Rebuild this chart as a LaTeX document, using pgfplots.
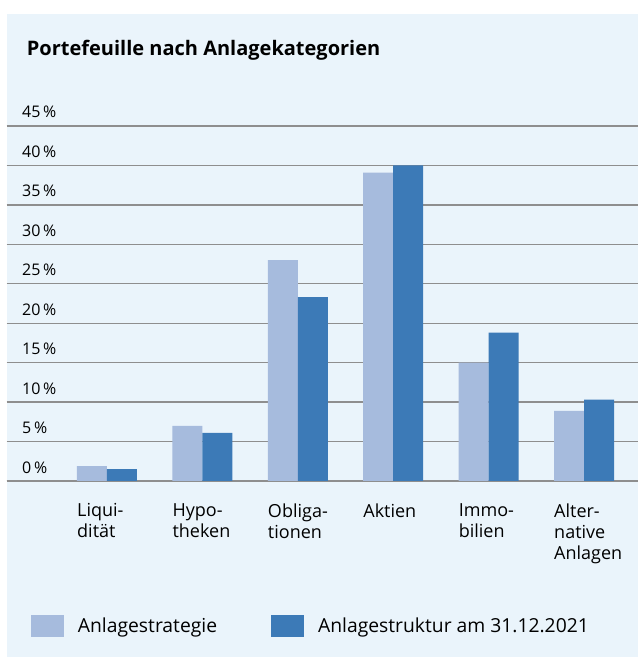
\documentclass[border=0pt]{standalone}
\usepackage{fontspec}
\setmainfont{Open Sans}
\usepackage{pgfplots}
\pgfplotsset{compat=1.18}
\definecolor{bg}{HTML}{EAF4FB}
\definecolor{lightbar}{HTML}{A6BBDD}
\definecolor{darkbar}{HTML}{3C7AB7}
\definecolor{gridc}{HTML}{8E8E8E}
\begin{document}
\begin{tikzpicture}
\fill[white] (0,0) rectangle (638bp,657bp);
\fill[bg] (6.5bp,0) rectangle (638bp,643bp);
\begin{axis}[
  at={(6.5bp,176bp)}, anchor=south west,
  scale only axis, width=631.5bp, height=355bp,
  xmin=-1.053, xmax=5.566, ymin=0, ymax=45,
  ybar=0pt, bar width=30bp,
  axis line style={draw=none},
  major tick length=0pt,
  ymajorgrids, grid style={draw=gridc, line width=1.4bp},
  ytick={0,5,...,45},
  yticklabels={0\,\%,5\,\%,10\,\%,15\,\%,20\,\%,25\,\%,30\,\%,35\,\%,40\,\%,45\,\%},
  yticklabel style={anchor=base west, inner sep=0pt, xshift=15.5bp, yshift=8bp,
    font=\fontsize{16bp}{18bp}\selectfont},
  xtick={0,...,5},
  xticklabels={Liqui-\\dität, Hypo-\\theken, Obliga-\\tionen, Aktien, Immo-\\bilien, Alter-\\native\\Anlagen},
  xticklabel style={align=left, anchor=north west, inner sep=0pt, xshift=-30bp, yshift=-22.5bp,
    font=\fontsize{18bp}{21bp}\selectfont},
  extra y ticks={0}, extra y tick labels={},
  extra y tick style={grid style={draw=gridc, line width=1.8bp}},
  title={\bfseries Portefeuille nach Anlagekategorien},
  title style={anchor=base west, at={(axis description cs:0.032,1.183)}, inner sep=0pt,
    font=\fontsize{20bp}{22bp}\selectfont},
  legend style={at={(axis description cs:0.0336,-0.408)}, anchor=west, draw=none, fill=none,
    legend columns=2, font=\fontsize{19.3bp}{22bp}\selectfont,
    /tikz/every odd column/.append style={column sep=12bp},
    /tikz/every even column/.append style={column sep=52bp}},
]
\addplot[fill=lightbar, draw=none,
  legend image code/.code={\fill[lightbar] (0bp,-11bp) rectangle (33bp,11bp);}]
  coordinates {(0,1.9) (1,7.0) (2,28.0) (3,39.1) (4,15.0) (5,8.9)};
\addplot[fill=darkbar, draw=none,
  legend image code/.code={\fill[darkbar] (0bp,-11bp) rectangle (33bp,11bp);}]
  coordinates {(0,1.5) (1,6.1) (2,23.3) (3,40.0) (4,18.8) (5,10.3)};
\legend{Anlagestrategie, Anlagestruktur am 31.12.2021}
\end{axis}
\end{tikzpicture}
\end{document}
